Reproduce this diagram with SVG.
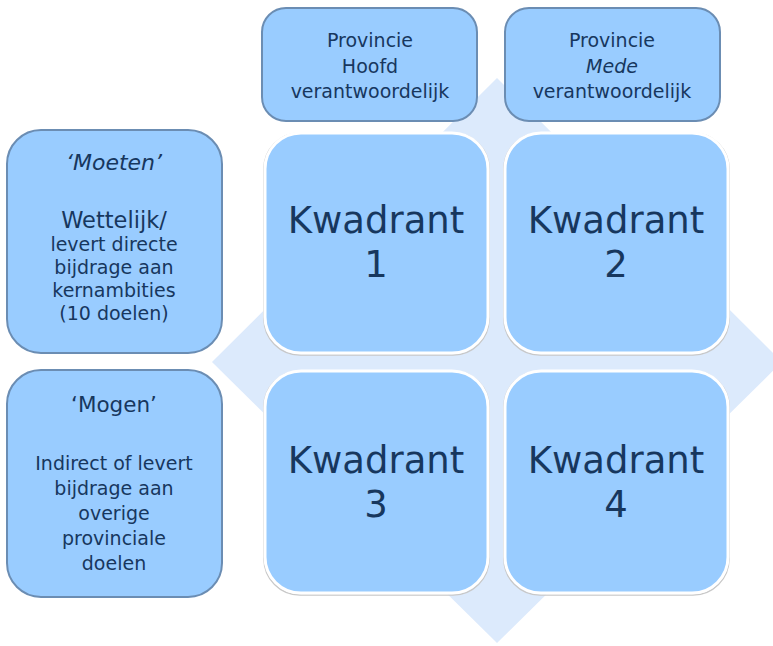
<svg xmlns="http://www.w3.org/2000/svg" width="773" height="646" viewBox="0 0 773 646">
<style>
.bg{fill:#dceafc}
.hdr{fill:#99ccff;stroke:#6b8db3;stroke-width:2}
.q{fill:#99ccff;stroke:#ffffff;stroke-width:3}
.qs{fill:none;stroke:#c8c8c8;stroke-width:1.5}
text{font-family:"DejaVu Sans","Liberation Sans",sans-serif;fill:#17375e;text-anchor:middle}
.s{font-size:19px}
.k{font-size:37px}
</style>
<rect width="773" height="646" fill="#ffffff"/>
<g id="background">
<polygon class="bg" points="497,78 782,362 497,643 212,362"/>
</g>
<g id="connectors"></g>
<g id="header1">
<rect class="hdr" x="262" y="8" width="215" height="113" rx="24"/>
<text class="s" x="370" y="47">Provincie</text>
<text class="s" x="370" y="73">Hoofd</text>
<text class="s" x="370" y="98">verantwoordelijk</text>
</g>
<g id="header2">
<rect class="hdr" x="505" y="8" width="215" height="113" rx="24"/>
<text class="s" x="612" y="47">Provincie</text>
<text class="s" x="612" y="73" font-style="italic">Mede</text>
<text class="s" x="612" y="98">verantwoordelijk</text>
</g>
<g id="moeten">
<rect class="hdr" x="7" y="130" width="215" height="223" rx="34"/>
<text x="114" y="170" font-size="22px" font-style="italic">‘Moeten’</text>
<text x="114" y="228" font-size="22.5px">Wettelijk/</text>
<text class="s" x="114" y="251" font-size="19.5px">levert directe</text>
<text class="s" x="114" y="274" font-size="19.5px">bijdrage aan</text>
<text class="s" x="114" y="297" font-size="19.5px">kernambities</text>
<text class="s" x="114" y="320" font-size="19.5px">(10 doelen)</text>
</g>
<g id="mogen">
<rect class="hdr" x="7" y="370" width="215" height="227" rx="34"/>
<text x="114" y="412" font-size="21.5px">‘Mogen’</text>
<text class="s" x="114" y="470">Indirect of levert</text>
<text class="s" x="114" y="495">bijdrage aan</text>
<text class="s" x="114" y="520">overige</text>
<text class="s" x="114" y="545">provinciale</text>
<text class="s" x="114" y="570">doelen</text>
</g>
<g id="kwadrant1">
<rect class="qs" x="264" y="133" width="225" height="222" rx="36"/>
<rect class="q" x="265" y="133" width="223" height="220" rx="36"/>
<text class="k" x="376" y="233">Kwadrant</text>
<text class="k" x="376" y="277">1</text>
</g>
<g id="kwadrant2">
<rect class="qs" x="504" y="133" width="225" height="222" rx="36"/>
<rect class="q" x="505" y="133" width="223" height="220" rx="36"/>
<text class="k" x="616" y="233">Kwadrant</text>
<text class="k" x="616" y="277">2</text>
</g>
<g id="kwadrant3">
<rect class="qs" x="264" y="371" width="225" height="224" rx="36"/>
<rect class="q" x="265" y="371" width="223" height="222" rx="36"/>
<text class="k" x="376" y="473">Kwadrant</text>
<text class="k" x="376" y="517">3</text>
</g>
<g id="kwadrant4">
<rect class="qs" x="504" y="371" width="225" height="224" rx="36"/>
<rect class="q" x="505" y="371" width="223" height="222" rx="36"/>
<text class="k" x="616" y="473">Kwadrant</text>
<text class="k" x="616" y="517">4</text>
</g>
</svg>
